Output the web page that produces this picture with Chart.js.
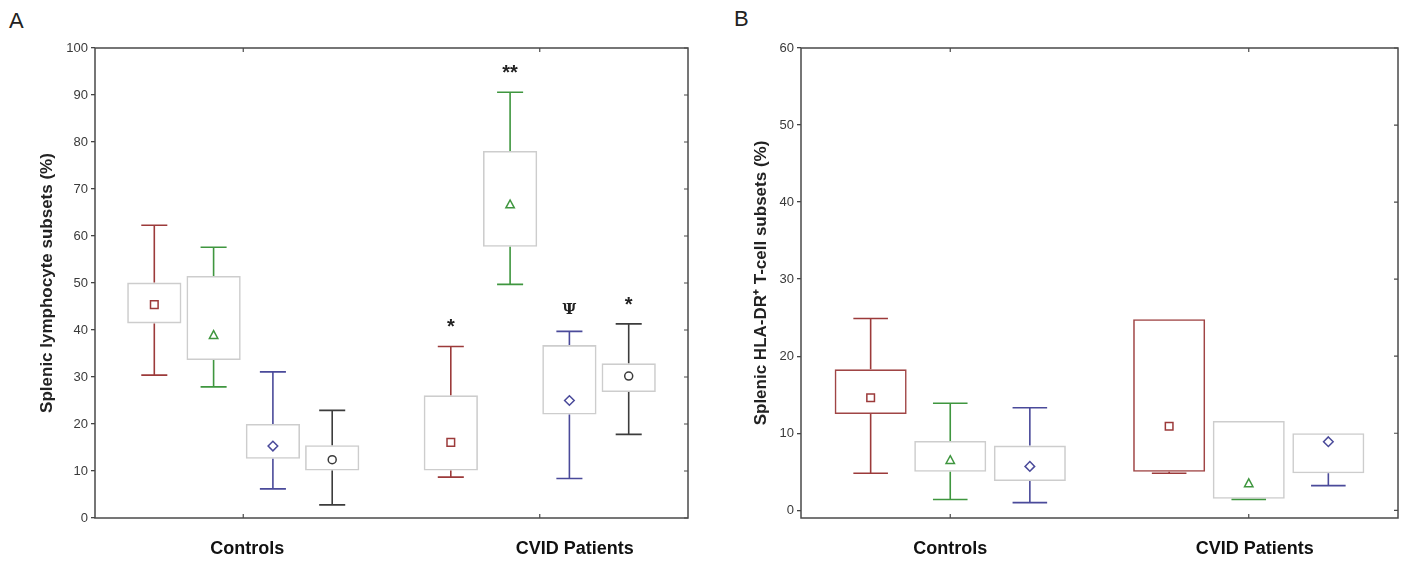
<!DOCTYPE html>
<html>
<head>
<meta charset="utf-8">
<script src="https://cdn.jsdelivr.net/npm/chart.js@4.4.1/dist/chart.umd.min.js"></script>
<style>
html,body{margin:0;padding:0;background:#fff;width:1403px;height:561px;overflow:hidden;}
#wrapA{position:absolute;left:0;top:0;width:700px;height:561px;}
#wrapB{position:absolute;left:700px;top:0;width:703px;height:561px;}
.letter{position:absolute;font-family:'Liberation Sans',Arial,sans-serif;font-size:22px;color:#222;line-height:25px;}
</style>
</head>
<body>
<div class="letter" style="left:9px;top:8px">A</div>
<div class="letter" style="left:734px;top:6px">B</div>
<div id="wrapA"><canvas id="chartA"></canvas></div>
<div id="wrapB"><canvas id="chartB"></canvas></div>
<script>
// ---------- DATA ----------
const categories = ['Controls', 'CVID Patients'];

// Panel A – four lymphocyte subsets (rows = subset, columns = category)
const seriesA = ['Subset 1', 'Subset 2', 'Subset 3', 'Subset 4'];
const aWhiskerLow  = [[30.4, 8.7], [27.9, 49.7], [6.2, 8.4], [2.8, 17.8]];
const aBoxLow      = [[41.4, 10.1], [33.6, 57.7], [12.6, 22.0], [10.1, 26.8]];
const aBoxHigh     = [[50.1, 26.1], [51.5, 78.1], [20.0, 36.8], [15.5, 32.9]];
const aWhiskerHigh = [[62.3, 36.5], [57.6, 90.6], [31.1, 39.7], [22.9, 41.3]];
const aMean        = [[45.4, 16.1], [38.9, 66.7], [15.3, 25.0], [12.4, 30.2]];
const aSignif      = [['', '*'], ['', '**'], ['', 'Ψ'], ['', '*']];
const yTicksA = [0, 10, 20, 30, 40, 50, 60, 70, 80, 90, 100];

// Panel B – three HLA-DR+ T-cell subsets
const seriesB = ['Subset 1', 'Subset 2', 'Subset 3'];
const bWhiskerLow  = [[4.8, 4.8], [1.4, 1.4], [1.0, 3.2]];
const bBoxLow      = [[12.5, 5.0], [5.0, 1.5], [3.8, 4.8]];
const bBoxHigh     = [[18.3, 24.8], [9.0, 11.6], [8.4, 10.0]];
const bWhiskerHigh = [[24.9, 24.8], [13.9, 11.6], [13.3, 10.0]];
const bMean        = [[14.6, 10.9], [6.5, 3.5], [5.7, 8.9]];
const yTicksB = [0, 10, 20, 30, 40, 50, 60];

// ---------- STYLES ----------
const FONT = "'Liberation Sans', Arial, sans-serif";
Chart.defaults.font.family = FONT;
const seriesColors = ['#9c3a3a', '#3f963f', '#4a4a9a', '#3c3c3c'];
const markerShapes = ['square', 'triangle', 'diamond', 'circle'];
const boxBorderA = ['#cdcdcd', '#cdcdcd', '#cdcdcd', '#cdcdcd'];
const boxBorderB = ['#a04545', '#cdcdcd', '#cdcdcd'];
const labelShiftA = [4, 35];
const labelShiftB = [0, 6];

function drawMarker(ctx, shape, x, y, color) {
  ctx.save();
  ctx.strokeStyle = color;
  ctx.lineWidth = 1.5;
  ctx.fillStyle = '#fff';
  ctx.beginPath();
  if (shape === 'square') {
    ctx.rect(x - 3.8, y - 3.8, 7.6, 7.6);
  } else if (shape === 'triangle') {
    ctx.moveTo(x, y - 4.5); ctx.lineTo(x + 4.2, y + 3.3); ctx.lineTo(x - 4.2, y + 3.3); ctx.closePath();
  } else if (shape === 'diamond') {
    ctx.moveTo(x, y - 4.8); ctx.lineTo(x + 4.8, y); ctx.lineTo(x, y + 4.8); ctx.lineTo(x - 4.8, y); ctx.closePath();
  } else {
    ctx.arc(x, y, 4, 0, Math.PI * 2);
  }
  ctx.fill();
  ctx.stroke();
  ctx.restore();
}

const boxPlugin = {
  id: 'boxWhiskers',
  afterDatasetsDraw(chart) {
    const cfg = chart.options.plugins.boxWhiskers;
    const ctx = chart.ctx, ys = chart.scales.y;
    ctx.save();
    cfg.lo.forEach((row, s) => {
      const meta = chart.getDatasetMeta(s);
      row.forEach((vLo, c) => {
        const bar = meta.data[c];
        const cx = bar.x, half = bar.width * 0.24;
        const pLo = ys.getPixelForValue(vLo);
        const pHi = ys.getPixelForValue(cfg.hi[s][c]);
        const pQ1 = ys.getPixelForValue(cfg.q1[s][c]);
        const pQ3 = ys.getPixelForValue(cfg.q3[s][c]);
        ctx.strokeStyle = seriesColors[s];
        ctx.lineWidth = 1.6;
        ctx.beginPath();
        if (cfg.hi[s][c] > cfg.q3[s][c] + 0.05) {
          ctx.moveTo(cx, pQ3); ctx.lineTo(cx, pHi);
          ctx.moveTo(cx - half, pHi); ctx.lineTo(cx + half, pHi);
        }
        if (vLo < cfg.q1[s][c] - 0.05) {
          ctx.moveTo(cx, pQ1); ctx.lineTo(cx, pLo);
          ctx.moveTo(cx - half, pLo); ctx.lineTo(cx + half, pLo);
        }
        ctx.stroke();
        drawMarker(ctx, markerShapes[s], cx, ys.getPixelForValue(cfg.mean[s][c]), seriesColors[s]);
        const sig = cfg.signif ? cfg.signif[s][c] : '';
        if (sig) {
          ctx.fillStyle = '#222';
          ctx.font = sig === 'Ψ' ? "bold 15px 'DejaVu Serif', serif" : "bold 20px " + FONT;
          ctx.textAlign = 'center';
          ctx.textBaseline = 'alphabetic';
          const m = ctx.measureText(sig);
          const target = pHi - 23;
          const base = target + (m.actualBoundingBoxAscent - m.actualBoundingBoxDescent) / 2;
          ctx.fillText(sig, cx, base);
        }
      });
    });
    ctx.restore();
  },
  afterDraw(chart) {
    const cfg = chart.options.plugins.boxWhiskers;
    const ctx = chart.ctx, a = chart.chartArea, xs = chart.scales.x, ys = chart.scales.y;
    ctx.save();
    ctx.strokeStyle = '#4a4a4a';
    ctx.lineWidth = 1.5;
    ctx.strokeRect(a.left, a.top, a.right - a.left, a.bottom - a.top);
    ctx.lineWidth = 1.2;
    ctx.beginPath();
    categories.forEach((_, c) => {
      const px = xs.getPixelForValue(c);
      ctx.moveTo(px, a.top); ctx.lineTo(px, a.top + 4);
      ctx.moveTo(px, a.bottom); ctx.lineTo(px, a.bottom - 4);
    });
    ys.ticks.forEach(t => {
      const py = ys.getPixelForValue(t.value);
      ctx.moveTo(a.right, py); ctx.lineTo(a.right - 4, py);
    });
    ctx.stroke();
    // category labels
    ctx.fillStyle = '#111';
    ctx.font = 'bold 18px ' + FONT;
    ctx.textAlign = 'center';
    ctx.textBaseline = 'middle';
    categories.forEach((lab, c) => {
      ctx.fillText(lab, xs.getPixelForValue(c) + cfg.labelShift[c], a.bottom + 31);
    });
    ctx.restore();
  }
};

function makeChart(id, series, lo, q1, q3, hi, mean, signif, borders, ticks, yMin, yMax,
                   yWidth, rightPad, titleText, titlePad, barPct, labelShift) {
  const datasets = series.map((name, s) => ({
    label: name,
    data: categories.map((_, c) => [q1[s][c], q3[s][c]]),
    backgroundColor: 'rgba(255,255,255,0)',
    borderColor: borders[s],
    borderWidth: 1.6,
    borderSkipped: false,
    categoryPercentage: 0.8,
    barPercentage: barPct
  }));
  return new Chart(document.getElementById(id), {
    type: 'bar',
    data: { labels: categories, datasets },
    options: {
      responsive: true,
      maintainAspectRatio: false,
      animation: false,
      layout: { padding: { top: 48, right: rightPad, bottom: 0, left: 0 } },
      plugins: {
        legend: { display: false },
        tooltip: { enabled: false },
        boxWhiskers: { lo, q1, q3, hi, mean, signif, labelShift }
      },
      scales: {
        x: {
          grid: { display: false },
          border: { display: false },
          ticks: { display: false },
          afterFit(scale) { scale.height = 43; }
        },
        y: {
          min: yMin, max: yMax,
          afterBuildTicks(scale) { scale.ticks = ticks.map(v => ({ value: v })); },
          afterFit(scale) { scale.width = yWidth; },
          grid: { drawOnChartArea: false, drawTicks: true, tickLength: 4, color: '#444', lineWidth: 1.3 },
          border: { display: false },
          ticks: { color: '#3a3a3a', padding: 3, font: { size: 13 } },
          title: {
            display: true, text: titleText, color: '#222',
            font: { size: 17, weight: 'bold' },
            padding: { top: titlePad, bottom: 0 }
          }
        }
      }
    },
    plugins: [boxPlugin]
  });
}

makeChart('chartA', seriesA, aWhiskerLow, aBoxLow, aBoxHigh, aWhiskerHigh, aMean, aSignif,
          boxBorderA, yTicksA, 0, 100, 95, 12, 'Splenic lymphocyte subsets (%)', 37, 0.915, labelShiftA);
makeChart('chartB', seriesB, bWhiskerLow, bBoxLow, bBoxHigh, bWhiskerHigh, bMean, null,
          boxBorderB, yTicksB, -1, 60, 101, 5, 'Splenic HLA-DR\u207A T-cell subsets (%)', 51, 0.905, labelShiftB);
</script>
</body>
</html>
